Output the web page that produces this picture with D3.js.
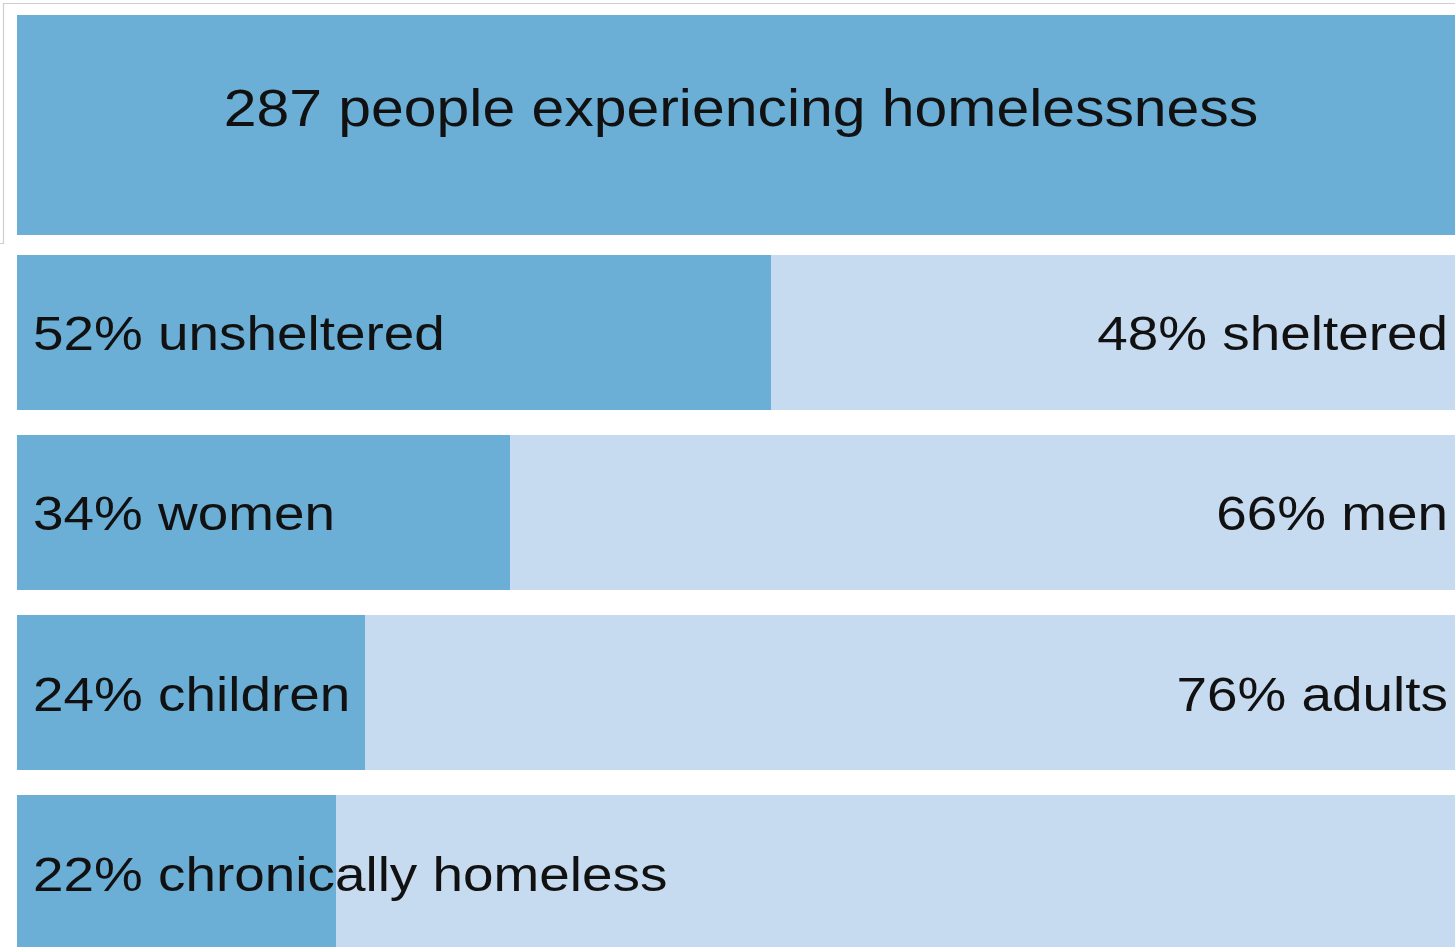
<!DOCTYPE html>
<html>
<head>
<meta charset="utf-8">
<script src="https://cdn.jsdelivr.net/npm/d3@7"></script>
<style>
  html, body { margin: 0; padding: 0; background: #fff; }
  svg { display: block; }
  text { font-family: "Liberation Sans", Arial, sans-serif; fill: #111; }
</style>
</head>
<body>
<svg id="chart" width="1455" height="947"></svg>
<script>
// Point-in-time count summary
const totalCount = 287;
const totalLabel = "people experiencing homelessness";
const groupShare = [52, 34, 24, 22];
const groupLabel = ["unsheltered", "women", "children", "chronically homeless"];
const restLabel = ["sheltered", "men", "adults", ""];

const W = 1455, H = 947;
const svg = d3.select("#chart");

const darkBlue = "#6baed6";
const lightBlue = "#c6dbef";
// labels use a slightly widened face
const titleStretch = 1.155;
const labelStretch = 1.12;

// horizontal share scale: 0–100 % across the full bar width
const x = d3.scaleLinear().domain([0, 100]).range([17, 1467]);

// rows for the breakdown bars
const y = d3.scaleBand()
  .domain(d3.range(groupShare.length))
  .range([255, 950])
  .paddingInner(0.139)
  .paddingOuter(0);

// thin frame around the headline block
svg.append("path")
  .attr("d", "M0,243.5 H3.5 V3.5 H1455")
  .attr("fill", "none")
  .attr("stroke", "#cfcfcf")
  .attr("stroke-width", 1.2);

// headline bar (100 %)
svg.append("rect")
  .attr("x", x(0)).attr("y", 15)
  .attr("width", x(100) - x(0)).attr("height", 220)
  .attr("fill", darkBlue);

svg.append("text")
  .attr("transform", `translate(${(x(0) + x(100)) / 2 - 1},126) scale(${titleStretch},1)`)
  .attr("text-anchor", "middle")
  .attr("font-size", 51)
  .text(`${totalCount} ${totalLabel}`);

const rows = svg.selectAll("g.row")
  .data(groupShare.map((v, i) => ({ v, i, left: groupLabel[i], right: restLabel[i] })))
  .join("g")
  .attr("class", "row");

// remainder (light) spans the whole row, share (dark) drawn on top
rows.append("rect")
  .attr("x", x(0))
  .attr("y", d => y(d.i))
  .attr("width", x(100) - x(0))
  .attr("height", y.bandwidth())
  .attr("fill", lightBlue);

rows.append("rect")
  .attr("x", x(0))
  .attr("y", d => y(d.i))
  .attr("width", d => x(d.v) - x(0))
  .attr("height", y.bandwidth())
  .attr("fill", darkBlue);

rows.append("text")
  .attr("transform", d => `translate(33,${y(d.i) + y.bandwidth() / 2 + 18}) scale(${labelStretch},1)`)
  .attr("font-size", 49)
  .text(d => `${d.v}% ${d.left}`);

rows.filter(d => d.right !== "")
  .append("text")
  .attr("transform", d => `translate(1448,${y(d.i) + y.bandwidth() / 2 + 18}) scale(${labelStretch},1)`)
  .attr("text-anchor", "end")
  .attr("font-size", 49)
  .text(d => `${100 - d.v}% ${d.right}`);
</script>
</body>
</html>
